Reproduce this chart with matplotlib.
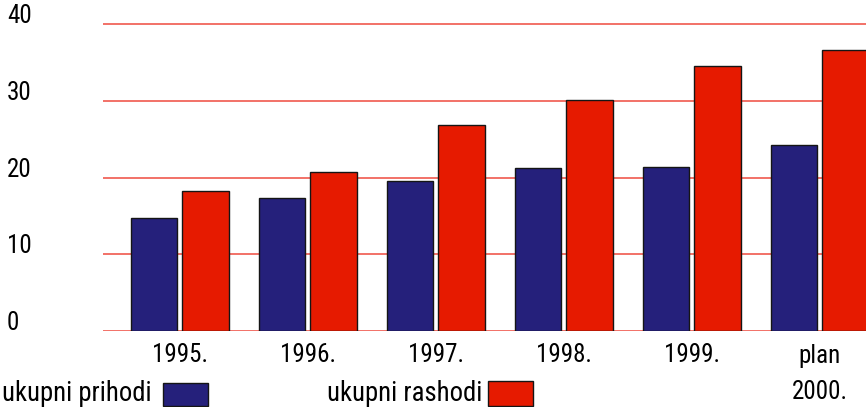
import matplotlib
matplotlib.use("Agg")
import matplotlib.pyplot as plt
import matplotlib.transforms as mtransforms
from matplotlib.patches import Rectangle
import numpy as np

# data (billions)
years = ["1995.", "1996.", "1997.", "1998.", "1999.", "plan\n2000."]
prihodi = [14.7, 17.3, 19.5, 21.2, 21.4, 24.3]
rashodi = [18.2, 20.7, 26.8, 30.1, 34.5, 36.6]
y_ticks = [0, 10, 20, 30, 40]
legend_labels = ["ukupni prihodi", "ukupni rashodi"]

BLUE = "#25207b"
RED = "#e61a00"
GRID = "#ef4a3e"

plt.rcParams["font.family"] = ["Roboto Condensed", "DejaVu Sans"]
plt.rcParams["font.size"] = 18

W, H = 866, 407
fig = plt.figure(figsize=(W / 100, H / 100), dpi=100)
ax = fig.add_axes([103 / W, (H - 331) / H, 1 - 103 / W, 311.6 / H])

x = np.arange(len(years))
bw = 0.36
off = 0.203
ax.bar(x - off, prihodi, bw, color=BLUE, edgecolor="#151515", lw=1, zorder=3)
ax.bar(x + off, rashodi, bw, color=RED, edgecolor="#151515", lw=1, zorder=3)

for v in y_ticks:
    ax.axhline(v, color=GRID, lw=1.1, zorder=1)

ax.set_xlim(-0.598, 5.363)
ax.set_ylim(0, 40.6)
for s in ax.spines.values():
    s.set_visible(False)
ax.set_yticks([])
ax.set_xticks(x, years)
ax.tick_params(axis="x", length=0, pad=9)
for lab in ax.get_xticklabels():
    lab.set_linespacing(1.65)

# y labels sit at the far left, a bit above their lines
trans = mtransforms.blended_transform_factory(fig.transFigure, ax.transData)
lift = mtransforms.ScaledTranslation(0, 8 / 100, fig.dpi_scale_trans)
for v in y_ticks:
    ax.text(7 / W, v, str(v), transform=trans + lift, ha="left", va="center",
            clip_on=False)

# legend along the bottom
base = 1 - 401 / H
fig.text(2 / W, base, legend_labels[0], ha="left", va="baseline", fontsize=19.3)
fig.patches.append(Rectangle((163 / W, 1 - 406 / H), 45 / W, 23 / H,
                             transform=fig.transFigure, facecolor=BLUE,
                             edgecolor="#151515", lw=1))
fig.text(327 / W, base, legend_labels[1], ha="left", va="baseline", fontsize=19.3)
fig.patches.append(Rectangle((488 / W, 1 - 406 / H), 45 / W, 25 / H,
                             transform=fig.transFigure, facecolor=RED,
                             edgecolor="#151515", lw=1))

fig.savefig("out.png", dpi=100)
